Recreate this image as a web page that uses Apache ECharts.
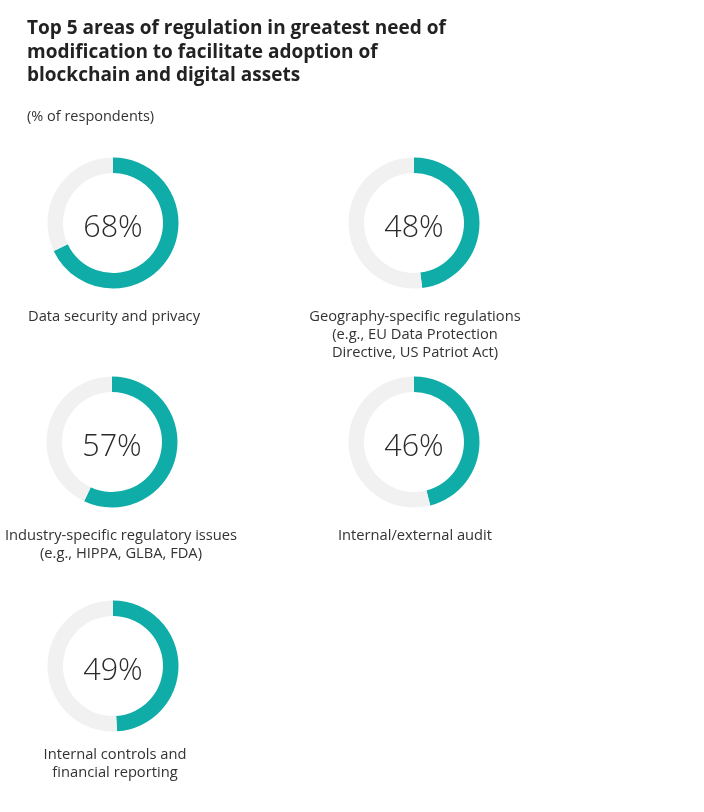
<!DOCTYPE html>
<html><head><meta charset="utf-8">
<script src="https://cdn.jsdelivr.net/npm/echarts@6/dist/echarts.min.js"></script>
<style>html,body{margin:0;padding:0;background:#fff}#c{width:704px;height:812px}</style>
</head><body><div id="c"></div>
<script>
const categories = [
  "Data security and privacy",
  "Geography-specific regulations\n(e.g., EU Data Protection\nDirective, US Patriot Act)",
  "Industry-specific regulatory issues\n(e.g., HIPPA, GLBA, FDA)",
  "Internal/external audit",
  "Internal controls and\nfinancial reporting"
];
const values = [68, 48, 57, 46, 49];
const titleText = "Top 5 areas of regulation in greatest need of\nmodification to facilitate adoption of\nblockchain and digital assets";
const subtitleText = "(% of respondents)";

const centers = [[113,223],[414,223],[112,442],[414,442],[113,666]];
const labelPos = [[114,308],[415,308],[121,527],[415,527],[115,746]];
const teal = '#0FACA8';
const track = '#F1F1F1';

const chart = echarts.init(document.getElementById('c'));
const titles = [{
  text: titleText, left: 27, top: 17, padding: 0,
  textStyle:{fontFamily:'Open Sans', fontWeight:'bold', fontSize:19, lineHeight:23.5, color:'#222'}
},{
  text: subtitleText, left: 27, top: 108, padding: 0,
  textStyle:{fontFamily:'Open Sans', fontWeight:'normal', fontSize:14.5, lineHeight:18, color:'#333'}
}];
categories.forEach((c,i)=>{
  titles.push({text:c, left:labelPos[i][0], top:labelPos[i][1], textAlign:'center', padding:0,
    textStyle:{fontFamily:'Open Sans', fontWeight:'normal', fontSize:14.7, lineHeight:18, color:'#333', align:'center'}});
});
const series = values.map((v,i)=>({
  type:'pie', radius:[50,65.5], center:centers[i], startAngle:90, clockwise:true,
  silent:true, animation:false, avoidLabelOverlap:false,
  label:{show:false}, labelLine:{show:false},
  data:[
    {value:v, itemStyle:{color:teal},
     label:{show:true, position:'center', offset:[0,5], formatter:v+'%', fontFamily:'Open Sans', fontWeight:300, fontSize:30.5, color:'#2a2a2a'}},
    {value:100-v, itemStyle:{color:track}}
  ]
}));
chart.setOption({title:titles, series:series});
</script></body></html>
